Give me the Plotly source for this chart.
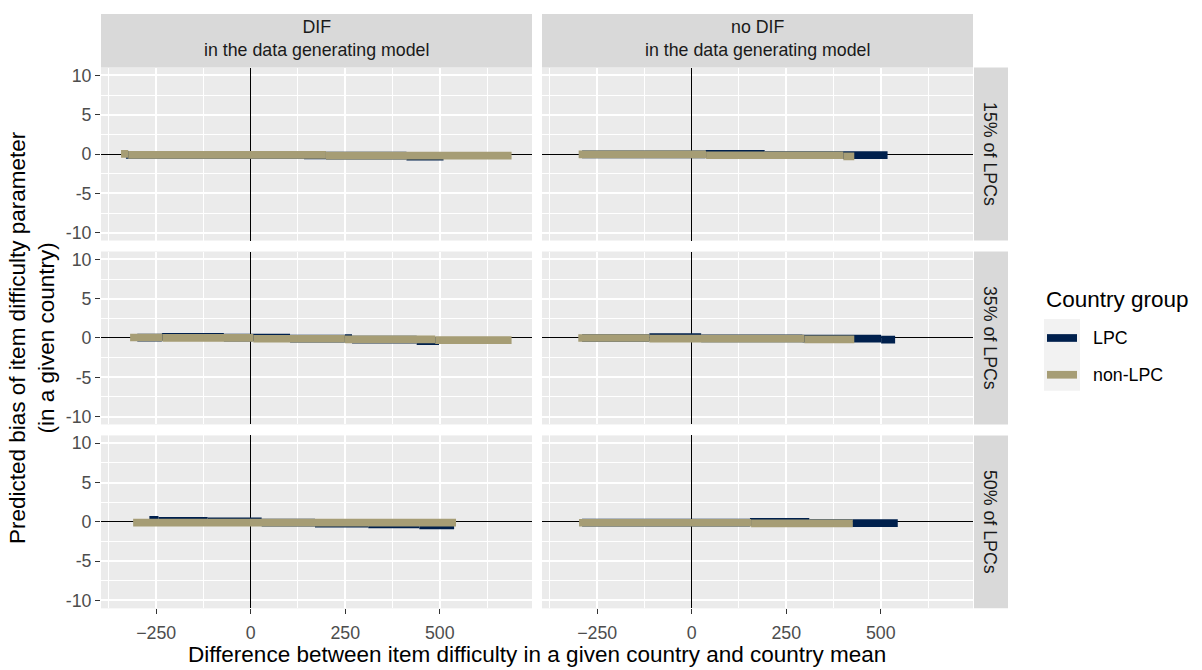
import plotly.graph_objects as go
from plotly.subplots import make_subplots

# Facet levels
dgm_levels = ["DIF", "no DIF"]
lpc_levels = ["15% of LPCs", "35% of LPCs", "50% of LPCs"]
group_levels = ["LPC", "non-LPC"]
group_colors = {"LPC": "#00204D", "non-LPC": "#A69D75"}

x_ticks = [-250, 0, 250, 500]
y_ticks = [-10, -5, 0, 5, 10]

# Predicted bias segments: (difference from, difference to, predicted bias)
dif_15_lpc = [(-330, 141, -0.11), (141, 199, -0.16), (199, 412, -0.20),
              (412, 510, -0.33)]
dif_15_nonlpc = [(-343, -324, 0.03), (-324, 199, -0.11), (199, 690, -0.20)]

nodif_15_lpc = [(-290, 36, -0.03), (36, 193, 0.02), (193, 395, -0.12),
                (395, 518, -0.13)]
nodif_15_nonlpc = [(-299, 38, -0.03), (38, 401, -0.15), (401, 430, -0.28)]

dif_35_lpc = [(-300, -235, 0.05), (-235, -71, 0.14), (-71, 3, 0.04),
              (3, 104, 0.06), (104, 249, -0.08), (249, 268, -0.03),
              (268, 439, -0.20), (439, 498, -0.40)]
dif_35_nonlpc = [(-319, -233, 0.06), (-233, 7, 0.02), (7, 249, -0.10),
                 (249, 488, -0.19), (488, 690, -0.28)]

nodif_35_lpc = [(-290, -112, 0.00), (-112, 25, 0.10), (25, 293, -0.06),
                (293, 501, -0.09), (501, 538, -0.22)]
nodif_35_nonlpc = [(-300, -112, 0.00), (-112, 298, -0.08), (298, 430, -0.17)]

dif_50_lpc = [(-268, -244, 0.27), (-244, -114, 0.14), (-114, 29, 0.06),
              (29, 170, -0.10), (170, 311, -0.24), (311, 446, -0.32),
              (446, 538, -0.44)]
dif_50_nonlpc = [(-311, 543, -0.10)]

nodif_50_lpc = [(-290, 154, -0.10), (154, 311, 0.01), (311, 426, -0.15),
                (426, 545, -0.17)]
nodif_50_nonlpc = [(-298, 157, -0.11), (157, 426, -0.19)]

panels = {
    ("DIF", "15% of LPCs"): (dif_15_lpc, dif_15_nonlpc),
    ("no DIF", "15% of LPCs"): (nodif_15_lpc, nodif_15_nonlpc),
    ("DIF", "35% of LPCs"): (dif_35_lpc, dif_35_nonlpc),
    ("no DIF", "35% of LPCs"): (nodif_35_lpc, nodif_35_nonlpc),
    ("DIF", "50% of LPCs"): (dif_50_lpc, dif_50_nonlpc),
    ("no DIF", "50% of LPCs"): (nodif_50_lpc, nodif_50_nonlpc),
}

W, H = 1202, 670
FONT = "Liberation Sans, Arial, sans-serif"
col_px = [(101, 532), (542, 973)]
row_px = [(66, 240), (251, 425), (436, 610)]
x_range = [-396, 744]
y_range = [-11, 11]
SMALL = 17.8
LARGE = 22.5


def px_x(p):
    return p / W


def px_y(p):
    return 1 - p / H


fig = make_subplots(rows=3, cols=2)


def segs_xy(segs):
    xs, ys = [], []
    for a, b, v in segs:
        xs += [a, b, None]
        ys += [v, v, None]
    return xs, ys


for r, share in enumerate(lpc_levels, start=1):
    for c, dgm in enumerate(dgm_levels, start=1):
        for grp, segs in zip(group_levels, panels[(dgm, share)]):
            xs, ys = segs_xy(segs)
            fig.add_trace(
                go.Scatter(x=xs, y=ys, mode="lines", name=grp,
                           line=dict(color=group_colors[grp], width=7.7),
                           showlegend=False, hoverinfo="skip"),
                row=r, col=c)

for r in range(1, 4):
    for c in range(1, 3):
        idx = (r - 1) * 2 + c
        xa = "xaxis" if idx == 1 else f"xaxis{idx}"
        ya = "yaxis" if idx == 1 else f"yaxis{idx}"
        bottom = r == 3
        left = c == 1
        l, rr = col_px[c - 1]
        t, b = row_px[r - 1]
        fig.layout[xa].update(
            domain=[px_x(l), px_x(rr)], range=x_range,
            tickmode="array", tickvals=x_ticks,
            showticklabels=bottom, ticks="outside" if bottom else "",
            ticklen=5, tickwidth=1.1, tickcolor="#333333",
            ticklabelstandoff=3,
            tickfont=dict(family=FONT, size=SMALL, color="#4D4D4D"),
            showgrid=True, gridcolor="white", gridwidth=1.8,
            minor=dict(tickvals=[-375, -125, 125, 375, 625], showgrid=True,
                       gridcolor="white", gridwidth=0.9),
            zeroline=True, zerolinecolor="black", zerolinewidth=1.3,
            showline=False)
        fig.layout[ya].update(
            domain=[px_y(b), px_y(t)], range=y_range,
            tickmode="array", tickvals=y_ticks,
            ticktext=[str(v) for v in y_ticks],
            showticklabels=left, ticks="outside" if left else "",
            ticklen=5, tickwidth=1.1, tickcolor="#333333",
            tickfont=dict(family=FONT, size=SMALL, color="#4D4D4D"),
            showgrid=True, gridcolor="white", gridwidth=1.8,
            minor=dict(tickvals=[-7.5, -2.5, 2.5, 7.5], showgrid=True,
                       gridcolor="white", gridwidth=0.9),
            zeroline=True, zerolinecolor="black", zerolinewidth=1.3,
            showline=False)

shapes = []
annotations = []

# Column strips
strip_top = 12
for (l, rr), dgm in zip(col_px, dgm_levels):
    shapes.append(dict(type="rect", xref="paper", yref="paper",
                       x0=px_x(l), x1=px_x(rr), y0=px_y(66), y1=px_y(strip_top),
                       fillcolor="#D9D9D9", line=dict(width=0), layer="below"))
    annotations.append(dict(xref="paper", yref="paper",
                            x=px_x((l + rr) / 2), y=px_y(37),
                            text=f"{dgm}<br>in the data generating model",
                            showarrow=False, xanchor="center", yanchor="middle",
                            font=dict(family=FONT, size=SMALL, color="#1A1A1A")))

# Row strips
for (t, b), share in zip(row_px, lpc_levels):
    shapes.append(dict(type="rect", xref="paper", yref="paper",
                       x0=px_x(974), x1=px_x(1008), y0=px_y(b), y1=px_y(t),
                       fillcolor="#D9D9D9", line=dict(width=0), layer="below"))
    annotations.append(dict(xref="paper", yref="paper",
                            x=px_x(990), y=px_y((t + b) / 2), text=share,
                            textangle=90, showarrow=False,
                            xanchor="center", yanchor="middle",
                            font=dict(family=FONT, size=SMALL, color="#1A1A1A")))

# Axis titles
annotations.append(dict(xref="paper", yref="paper", x=px_x(537), y=px_y(656),
                        text="Difference between item difficulty in a given country and country mean",
                        showarrow=False, xanchor="center", yanchor="middle",
                        font=dict(family=FONT, size=LARGE, color="black")))
annotations.append(dict(xref="paper", yref="paper", x=px_x(32), y=px_y(338),
                        text="Predicted bias of item difficulty parameter<br>(in a given country)",
                        textangle=-90, showarrow=False,
                        xanchor="center", yanchor="middle",
                        font=dict(family=FONT, size=LARGE, color="black")))

# Legend
annotations.append(dict(xref="paper", yref="paper", x=px_x(1044), y=px_y(299),
                        text="Country group", showarrow=False,
                        xanchor="left", yanchor="middle",
                        font=dict(family=FONT, size=LARGE, color="black")))
shapes.append(dict(type="rect", xref="paper", yref="paper",
                   x0=px_x(1044), x1=px_x(1080), y0=px_y(391), y1=px_y(319),
                   fillcolor="#F2F2F2", line=dict(width=0)))
for grp, yc in zip(group_levels, [338, 375]):
    shapes.append(dict(type="line", xref="paper", yref="paper",
                       x0=px_x(1047), x1=px_x(1077), y0=px_y(yc), y1=px_y(yc),
                       line=dict(color=group_colors[grp], width=7.7)))
    annotations.append(dict(xref="paper", yref="paper", x=px_x(1091), y=px_y(yc),
                            text=grp, showarrow=False,
                            xanchor="left", yanchor="middle",
                            font=dict(family=FONT, size=SMALL, color="black")))

fig.update_layout(
    width=W, height=H,
    margin=dict(l=0, r=0, t=0, b=0),
    paper_bgcolor="white", plot_bgcolor="#EBEBEB",
    shapes=shapes, annotations=annotations,
    showlegend=False,
    font=dict(family=FONT),
)

fig.write_html("out.html")
